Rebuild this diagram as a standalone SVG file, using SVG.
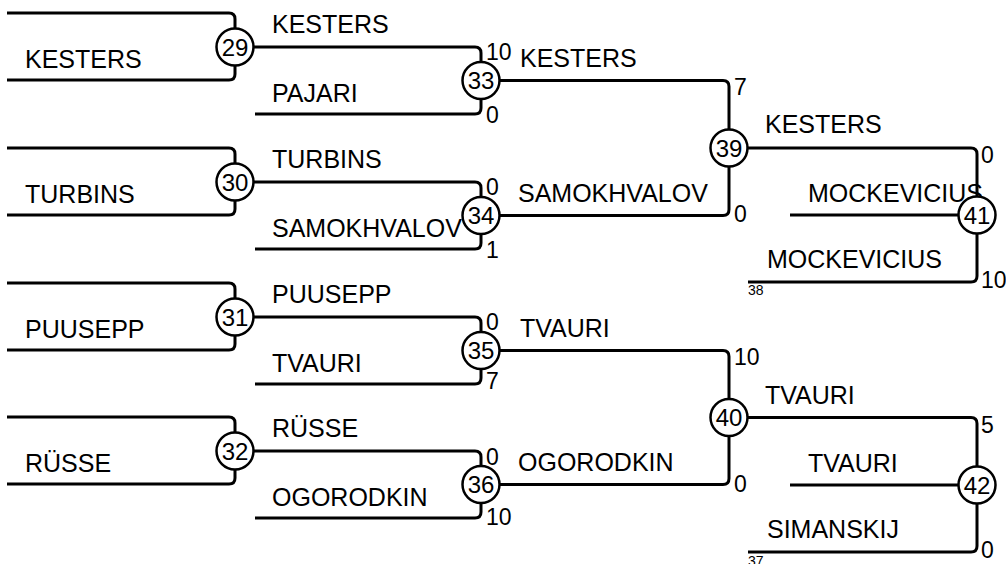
<svg xmlns="http://www.w3.org/2000/svg" width="1006" height="564" viewBox="0 0 1006 564">
<style>
.c{fill:none;stroke:#000;stroke-width:3}
.n circle{fill:#fff;stroke:#000;stroke-width:2.5}
.n text{font-family:"Liberation Sans",Arial,sans-serif;font-size:24px;text-anchor:middle;fill:#000}
.l{font-family:"Liberation Sans",Arial,sans-serif;font-size:25px;fill:#000}
.s{font-family:"Liberation Sans",Arial,sans-serif;font-size:23px;fill:#000}
.t{font-family:"Liberation Sans",Arial,sans-serif;font-size:14px;fill:#000}
</style>
<rect width="1006" height="564" fill="#fff"/>
<g id="connectors">
<path class="c" d="M7,13 H229 Q235,13 235,19 V74 Q235,80 229,80 H7"/>
<path class="c" d="M7,148 H229 Q235,148 235,154 V209 Q235,215 229,215 H7"/>
<path class="c" d="M7,283 H229 Q235,283 235,289 V344 Q235,350 229,350 H7"/>
<path class="c" d="M7,417 H229 Q235,417 235,423 V478 Q235,484 229,484 H7"/>
<path class="c" d="M235,47 H475 Q481,47 481,53 V108 Q481,114 475,114 H255"/>
<path class="c" d="M235,182 H475 Q481,182 481,188 V243 Q481,249 475,249 H255"/>
<path class="c" d="M235,317 H475 Q481,317 481,323 V378 Q481,384 475,384 H255"/>
<path class="c" d="M235,451 H475 Q481,451 481,457 V512 Q481,518 475,518 H255"/>
<path class="c" d="M481,80.5 H723 Q729,80.5 729,86.5 V209.5 Q729,215.5 723,215.5 H481"/>
<path class="c" d="M481,350.5 H723 Q729,350.5 729,356.5 V478.5 Q729,484.5 723,484.5 H481"/>
<path class="c" d="M729,148 H971 Q977,148 977,154 V276 Q977,282 971,282 H748 M790,215 H977"/>
<path class="c" d="M729,417.5 H971 Q977,417.5 977,423.5 V546 Q977,552 971,552 H748 M790,485 H977"/>
</g>
<g id="labels">
<text class="l" x="25" y="68">KESTERS</text>
<text class="l" x="25" y="203">TURBINS</text>
<text class="l" x="25" y="338">PUUSEPP</text>
<text class="l" x="25" y="472">RÜSSE</text>
<text class="l" x="272" y="33">KESTERS</text>
<text class="l" x="272" y="102">PAJARI</text>
<text class="l" x="272" y="168">TURBINS</text>
<text class="l" x="272" y="237">SAMOKHVALOV</text>
<text class="l" x="272" y="303">PUUSEPP</text>
<text class="l" x="272" y="372">TVAURI</text>
<text class="l" x="272" y="437">RÜSSE</text>
<text class="l" x="272" y="506">OGORODKIN</text>
<text class="l" x="520" y="67">KESTERS</text>
<text class="l" x="518" y="202">SAMOKHVALOV</text>
<text class="l" x="520" y="337">TVAURI</text>
<text class="l" x="518" y="471">OGORODKIN</text>
<text class="l" x="765" y="133">KESTERS</text>
<text class="l" x="808" y="202">MOCKEVICIUS</text>
<text class="l" x="767" y="268">MOCKEVICIUS</text>
<text class="t" x="748" y="295">38</text>
<text class="l" x="765" y="404">TVAURI</text>
<text class="l" x="808" y="472">TVAURI</text>
<text class="l" x="767" y="538">SIMANSKIJ</text>
<text class="t" x="748" y="566">37</text>
<text class="s" x="486" y="60">10</text>
<text class="s" x="486" y="123">0</text>
<text class="s" x="486" y="195">0</text>
<text class="s" x="486" y="258">1</text>
<text class="s" x="486" y="330">0</text>
<text class="s" x="486" y="389">7</text>
<text class="s" x="486" y="465">0</text>
<text class="s" x="486" y="525">10</text>
<text class="s" x="734" y="95">7</text>
<text class="s" x="734" y="222">0</text>
<text class="s" x="734" y="365">10</text>
<text class="s" x="734" y="492">0</text>
<text class="s" x="981" y="163">0</text>
<text class="s" x="981" y="288">10</text>
<text class="s" x="981" y="433">5</text>
<text class="s" x="981" y="558">0</text>
</g>
<g id="node-29" class="n"><circle cx="235" cy="47" r="18.5"/><text x="235" y="55.5">29</text></g>
<g id="node-30" class="n"><circle cx="235" cy="182" r="18.5"/><text x="235" y="190.5">30</text></g>
<g id="node-31" class="n"><circle cx="235" cy="317" r="18.5"/><text x="235" y="325.5">31</text></g>
<g id="node-32" class="n"><circle cx="235" cy="451" r="18.5"/><text x="235" y="459.5">32</text></g>
<g id="node-33" class="n"><circle cx="481" cy="80.5" r="18.5"/><text x="481" y="89">33</text></g>
<g id="node-34" class="n"><circle cx="481" cy="215.5" r="18.5"/><text x="481" y="224">34</text></g>
<g id="node-35" class="n"><circle cx="481" cy="350.5" r="18.5"/><text x="481" y="359">35</text></g>
<g id="node-36" class="n"><circle cx="481" cy="484.5" r="18.5"/><text x="481" y="493">36</text></g>
<g id="node-39" class="n"><circle cx="729" cy="148" r="18.5"/><text x="729" y="156.5">39</text></g>
<g id="node-40" class="n"><circle cx="729" cy="417.5" r="18.5"/><text x="729" y="426">40</text></g>
<g id="node-41" class="n"><circle cx="977" cy="215" r="18.5"/><text x="977" y="223.5">41</text></g>
<g id="node-42" class="n"><circle cx="977" cy="485" r="18.5"/><text x="977" y="493.5">42</text></g>
</svg>
